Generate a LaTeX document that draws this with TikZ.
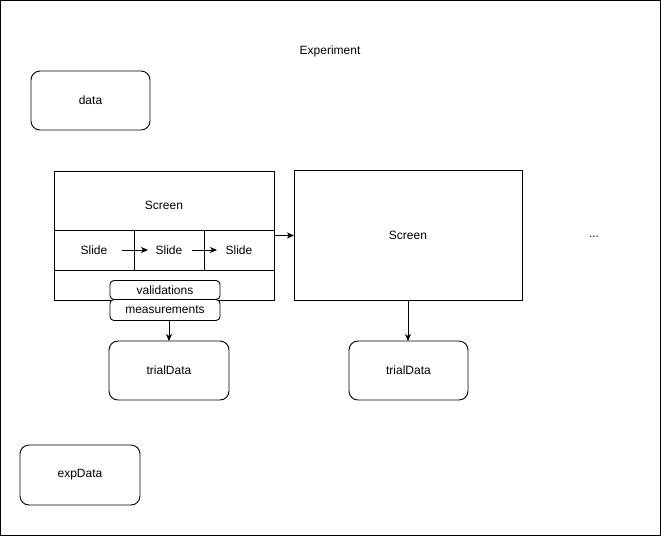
\documentclass[tikz,border=0pt]{standalone}
\usepackage{fontspec}
\setmainfont{Liberation Sans}
\usetikzlibrary{arrows.meta}
\begin{document}
\begin{tikzpicture}[x=1pt,y=-1pt,
  every node/.style={font=\fontsize{12}{14}\selectfont, inner sep=0pt, outer sep=0pt},
  frame/.style={draw, line width=0.9pt, anchor=north west},
  rbox/.style={frame, rounded corners=9pt},
  tagbox/.style={frame, rounded corners=4pt, fill=white, minimum width=110pt},
  flow/.style={draw, line width=0.9pt, -{Stealth[length=7pt,width=6pt,inset=2pt]}}]
  \useasboundingbox (0,0) rectangle (661,536);

  % outer experiment frame
  \node[frame, minimum width=660pt, minimum height=535pt] (exp) at (0.5,0.5) {};
  \node (expTitle) at (330,51.5) {Experiment};

  % experiment-level data
  \node[rbox, minimum width=119pt, minimum height=59pt] (data) at (31,71) {data};
  \node[rbox, minimum width=120pt, minimum height=60pt] (expData) at (20,445) {expData};

  % first screen with its slides
  \node[frame, minimum width=220pt, minimum height=129pt] (scrA) at (54,171) {};
  \node (scrAtitle) at (164,205) {Screen};
  \node[frame, minimum width=80pt, minimum height=40pt] (s1) at (54,230) {Slide};
  \node[frame, minimum width=70pt, minimum height=40pt] (s2) at (134,230) {Slide};
  \node[frame, minimum width=70pt, minimum height=40pt] (s3) at (204,230) {Slide};
  \draw[flow] ([xshift=28pt]s1.center) -- ([xshift=-21pt]s2.center);
  \draw[flow] ([xshift=23pt]s2.center) -- ([xshift=-22pt]s3.center);

  \node[tagbox, minimum height=19pt] (val) at (110,280.5) {validations};
  \node[tagbox, minimum height=21pt] (meas) at (110,299.5) {measurements};

  % second screen
  \node[frame, minimum width=228pt, minimum height=130pt] (scrB) at (294,170) {Screen};
  \node (more) at (594,237) {...};

  % trial data
  \node[rbox, minimum width=120pt, minimum height=59pt] (td1) at (109,341) {trialData};
  \node[rbox, minimum width=119pt, minimum height=59pt] (td2) at (349,341) {trialData};

  % connectors
  \draw[flow] (scrA.east) -- (scrA.east -| scrB.west);
  \draw[flow] (meas.south -| td1.north) -- (td1.north);
  \draw[flow] (scrB.south) -- (scrB.south |- td2.north);
\end{tikzpicture}
\end{document}
